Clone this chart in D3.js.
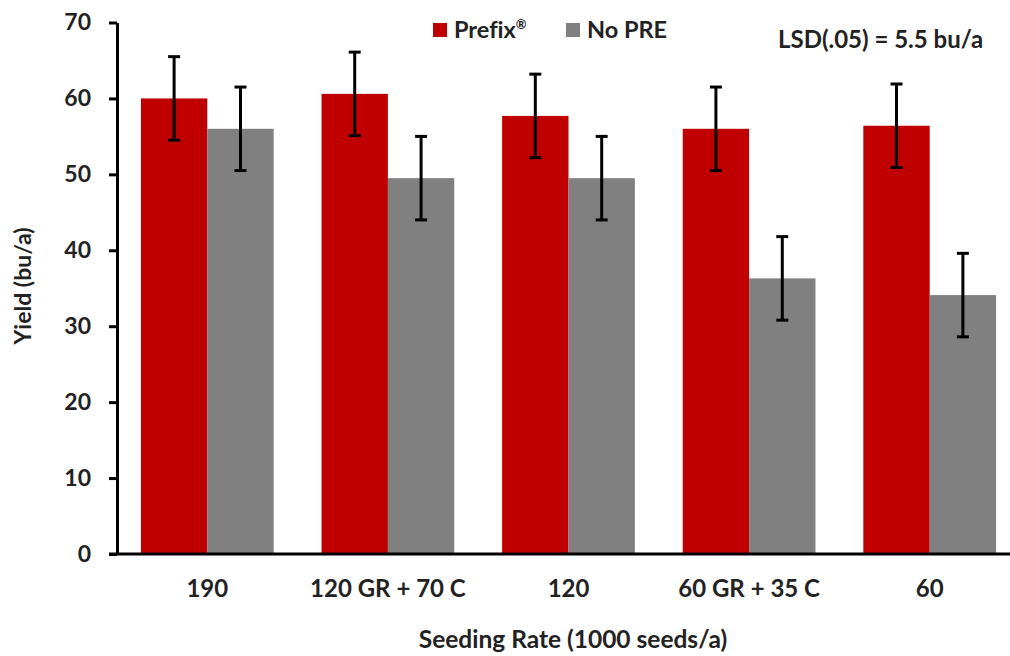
<!DOCTYPE html>
<html>
<head>
<meta charset="utf-8">
<script src="https://cdnjs.cloudflare.com/ajax/libs/d3/7.8.5/d3.min.js"></script>
<style>
  body { margin: 0; background: #fff; }
  svg { display: block; font-family: Lato, "Open Sans", sans-serif; font-weight: bold; font-variant-ligatures: none; }
</style>
</head>
<body>
<div id="chart"></div>
<script>
// data
var categories = ["190", "120 GR + 70 C", "120", "60 GR + 35 C", "60"];
var seriesNames = ["Prefix", "No PRE"];
var prefixYield = [60.0, 60.6, 57.7, 56.0, 56.4];
var noPreYield = [56.0, 49.5, 49.5, 36.3, 34.1];
var errPrefix = [5.5, 5.5, 5.5, 5.5, 5.5];
var errNoPre = [5.5, 5.5, 5.5, 5.5, 5.5];
var yTicks = [0, 10, 20, 30, 40, 50, 60, 70];
var colors = ["#c00000", "#808080"];

var width = 1010, height = 656;
var margin = {top: 22.5, left: 117, bottom: 102, right: -10};

var svg = d3.select("#chart").append("svg")
    .attr("width", width)
    .attr("height", height);

var x = d3.scaleBand()
    .domain(categories)
    .range([margin.left, width - margin.right])
    .paddingInner(0.265)
    .paddingOuter(0.1325);

var x1 = d3.scaleBand()
    .domain(seriesNames)
    .range([0, x.bandwidth()]);

var y = d3.scaleLinear()
    .domain([0, 70])
    .range([height - margin.bottom, margin.top]);

var rows = categories.map(function(c, i) {
  return [
    {cat: c, s: "Prefix", v: prefixYield[i], e: errPrefix[i], col: colors[0]},
    {cat: c, s: "No PRE", v: noPreYield[i], e: errNoPre[i], col: colors[1]}
  ];
});

var groups = svg.append("g").selectAll("g")
    .data(rows)
    .enter().append("g")
    .attr("transform", function(d) { return "translate(" + x(d[0].cat) + ",0)"; });

groups.selectAll("rect")
    .data(function(d) { return d; })
    .enter().append("rect")
    .attr("x", function(d) { return x1(d.s); })
    .attr("width", x1.bandwidth())
    .attr("y", function(d) { return y(d.v); })
    .attr("height", function(d) { return y(0) - y(d.v); })
    .attr("fill", function(d) { return d.col; });

// error bars
var eb = groups.selectAll("g.err")
    .data(function(d) { return d; })
    .enter().append("g")
    .attr("class", "err")
    .attr("stroke", "#000")
    .attr("stroke-width", 3);

eb.append("line")
    .attr("x1", function(d) { return x1(d.s) + x1.bandwidth() / 2; })
    .attr("x2", function(d) { return x1(d.s) + x1.bandwidth() / 2; })
    .attr("y1", function(d) { return y(d.v + d.e); })
    .attr("y2", function(d) { return y(d.v - d.e); });

[1, -1].forEach(function(sign) {
  eb.append("line")
    .attr("x1", function(d) { return x1(d.s) + x1.bandwidth() / 2 - 6; })
    .attr("x2", function(d) { return x1(d.s) + x1.bandwidth() / 2 + 6; })
    .attr("y1", function(d) { return y(d.v + sign * d.e); })
    .attr("y2", function(d) { return y(d.v + sign * d.e); });
});

// y axis
var yAxis = svg.append("g")
    .attr("transform", "translate(" + margin.left + ",0)")
    .call(d3.axisLeft(y).tickValues(yTicks).tickSize(8).tickSizeOuter(0).tickPadding(18));
yAxis.select(".domain").attr("stroke", "#000").attr("stroke-width", 3);
yAxis.selectAll(".tick line").attr("stroke", "#000").attr("stroke-width", 3);
yAxis.selectAll("text")
    .attr("font-family", "Lato, sans-serif")
    .attr("font-weight", "bold")
    .attr("font-size", 23)
    .attr("fill", "#222");

// x axis
var xAxis = svg.append("g")
    .attr("transform", "translate(0," + y(0) + ")")
    .call(d3.axisBottom(x).tickSize(0).tickPadding(26));
xAxis.select(".domain").attr("stroke", "#000").attr("stroke-width", 3)
    .attr("d", "M" + (margin.left - 8) + ",0H" + width);
xAxis.selectAll("text")
    .attr("font-family", "Lato, sans-serif")
    .attr("font-weight", "bold")
    .attr("font-size", 24)
    .attr("fill", "#222");

// axis titles
svg.append("text")
    .attr("transform", "translate(31,286) rotate(-90)")
    .attr("text-anchor", "middle")
    .attr("font-size", 23)
    .attr("fill", "#222")
    .text("Yield (bu/a)");

svg.append("text")
    .attr("x", 573)
    .attr("y", 648)
    .attr("text-anchor", "middle")
    .attr("font-size", 24.5)
    .attr("fill", "#222")
    .text("Seeding Rate (1000 seeds/a)");

// legend
var legend = svg.append("g");
var legX = [433, 566];
seriesNames.forEach(function(name, i) {
  legend.append("rect")
    .attr("x", legX[i]).attr("y", 23)
    .attr("width", 14).attr("height", 14)
    .attr("fill", colors[i]);
  var t = legend.append("text")
    .attr("x", legX[i] + 21).attr("y", 38)
    .attr("font-size", 23.5)
    .attr("fill", "#222")
    .text(name);
  if (i === 0) {
    t.append("tspan").attr("font-size", 13).attr("dy", -9).text("®");
  }
});

svg.append("text")
    .attr("x", 778)
    .attr("y", 48)
    .attr("font-size", 24)
    .attr("fill", "#222")
    .text("LSD(.05) = 5.5 bu/a");
</script>
</body>
</html>
